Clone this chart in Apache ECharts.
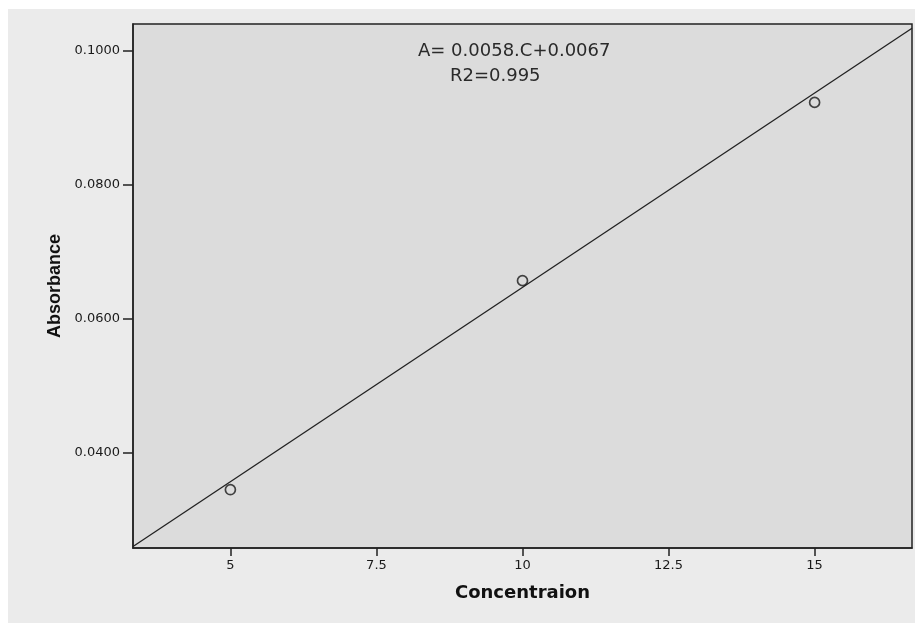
<!DOCTYPE html>
<html>
<head>
<meta charset="utf-8">
<script src="https://cdn.jsdelivr.net/npm/echarts@6/dist/echarts.min.js"></script>
<style>
html,body{margin:0;padding:0;background:#ffffff;}
#chart{position:absolute;left:8px;top:9px;width:907px;height:614px;}
</style>
</head>
<body>
<div id="chart"></div>
<script>
// Data
const concentrations = [5, 10, 15];
const absorbances = [0.0345, 0.0657, 0.0923];
const xTicks = [5, 7.5, 10, 12.5, 15];
const yTicks = [0.04, 0.06, 0.08, 0.10];
const fitSlope = 0.0058;
const fitIntercept = 0.0067;
const equationText = 'A= 0.0058.C+0.0067';
const r2Text = 'R2=0.995';
const xTitle = 'Concentraion';
const yTitle = 'Absorbance';
const xRange = [3.333, 16.667];
const yRange = [0.0258, 0.1040];

const pointData = concentrations.map((c, i) => [c, absorbances[i]]);
const fitData = xRange.map(x => [x, fitSlope * x + fitIntercept]);

const chart = echarts.init(document.getElementById('chart'), null, {renderer: 'canvas'});
const tickFont = {fontFamily: 'DejaVu Sans', fontSize: 13, color: '#1a1a1a'};
chart.setOption({
  animation: false,
  backgroundColor: '#ebebeb',
  grid: {
    left: 125, top: 15, right: 3, bottom: 75,
    show: true, backgroundColor: '#dcdcdc', borderColor: '#222', borderWidth: 1.5
  },
  xAxis: {
    type: 'value', min: xRange[0], max: xRange[1],
    name: xTitle, nameLocation: 'middle', nameGap: 36,
    nameTextStyle: {fontFamily: 'DejaVu Sans', fontWeight: 'bold', fontSize: 18, color: '#111'},
    axisLine: {show: true, lineStyle: {color: '#222', width: 1.5}},
    axisTick: {show: true, length: 8, lineStyle: {color: '#222', width: 1.5}, customValues: xTicks},
    axisLabel: Object.assign({margin: 11, customValues: xTicks, formatter: v => String(v)}, tickFont),
    splitLine: {show: false}
  },
  yAxis: {
    type: 'value', min: yRange[0], max: yRange[1],
    name: yTitle, nameLocation: 'middle', nameGap: 69,
    nameTextStyle: {fontFamily: "'Liberation Sans', Arial, sans-serif", fontWeight: 'bold', fontSize: 18, color: '#111'},
    axisLine: {show: true, lineStyle: {color: '#222', width: 1.5}},
    axisTick: {show: true, length: 10, lineStyle: {color: '#222', width: 1.5}, customValues: yTicks},
    axisLabel: Object.assign({margin: 13, customValues: yTicks, formatter: v => v.toFixed(4)}, tickFont),
    splitLine: {show: false}
  },
  graphic: [
    {type: 'text', left: 410, top: 33, style: {text: equationText, fontFamily: 'DejaVu Sans', fontSize: 18, fill: '#2a2a2a'}},
    {type: 'text', left: 442, top: 58, style: {text: r2Text, fontFamily: 'DejaVu Sans', fontSize: 18, fill: '#2a2a2a'}}
  ],
  series: [
    {
      type: 'line', data: fitData, symbol: 'none', clip: true,
      lineStyle: {color: '#222', width: 1.3}, z: 2
    },
    {
      type: 'scatter', data: pointData, symbol: 'circle', symbolSize: 10,
      itemStyle: {color: 'rgba(0,0,0,0)', borderColor: '#1a1a1a', borderWidth: 1.7}, z: 3
    }
  ]
});
</script>
</body>
</html>
